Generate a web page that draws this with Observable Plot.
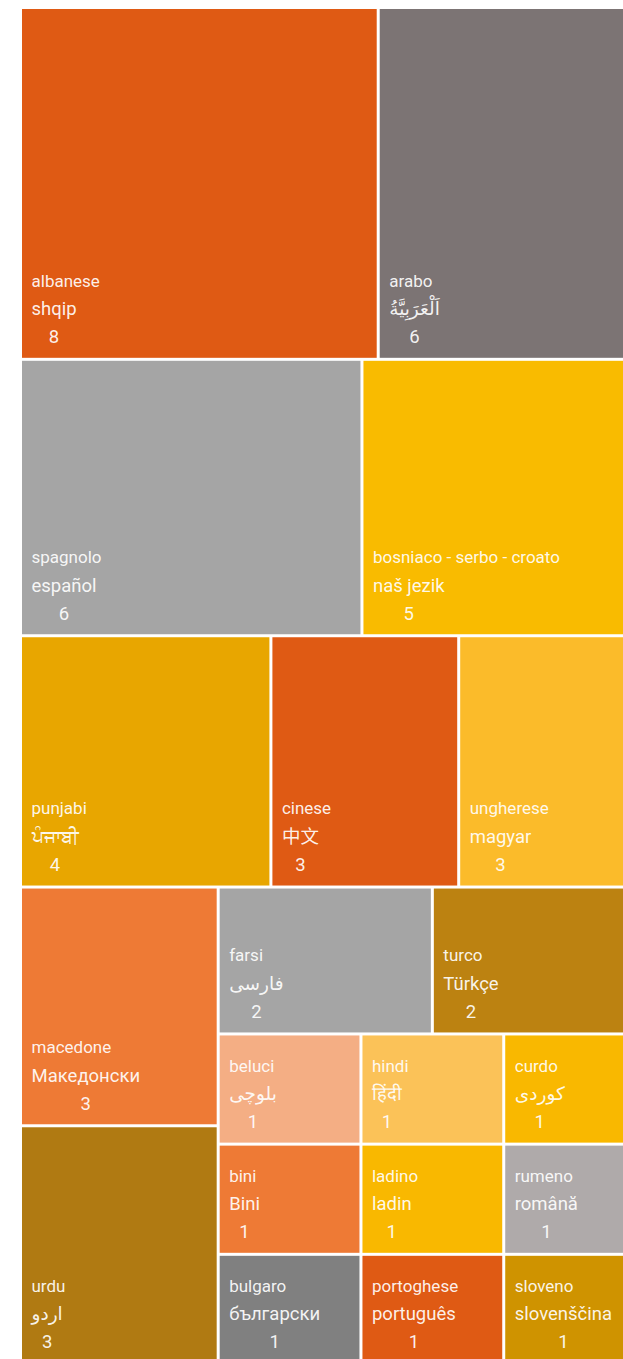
<!DOCTYPE html>
<html><head><meta charset="utf-8">
<script src="https://cdn.jsdelivr.net/npm/d3@7"></script>
<script src="https://cdn.jsdelivr.net/npm/@observablehq/plot@0.6"></script>
<style>
html,body{margin:0;padding:0;background:#fff;overflow:hidden}
#chart svg{display:block;max-width:none}
</style></head><body><div id="chart"></div>
<script>
const italian = ["albanese","arabo","spagnolo","bosniaco - serbo - croato","punjabi","cinese","ungherese","macedone","urdu","farsi","turco","beluci","hindi","curdo","bini","ladino","rumeno","bulgaro","portoghese","sloveno"];
const native = ["shqip","اَلْعَرَبِيَّةُ","español","naš jezik","ਪੰਜਾਬੀ","中文","magyar","Македонски","اردو","فارسی","Türkçe","بلوچی","हिंदी","کوردی","Bini","ladin","română","български","português","slovenščina"];
const speakers = [8,6,6,5,4,3,3,3,3,2,2,1,1,1,1,1,1,1,1,1];
const group = ["1","1","2","2","3","3","3","4/a","4/a","4/b/1","4/b/1","4/b/2","4/b/2","4/b/2","4/b/3","4/b/3","4/b/3","4/b/4","4/b/4","4/b/4"];
const colors = ["#DF5A14","#7C7474","#A5A5A5","#F9BB00","#E8A600","#DF5A14","#FBBB2A","#EE7A35","#B07A12","#A5A5A5","#BC8211","#F4AE84","#FBC258","#F9B800","#EE7A35","#F9B800","#AFAAAA","#808080","#DF5A14","#CF9300"];

const FONT = "Roboto, 'Noto Sans CJK SC', 'DejaVu Sans', sans-serif";
const rows = italian.map((it, i) => ({italian: it, native: native[i], speakers: speakers[i], group: group[i], color: colors[i]}));

// build nested structure from group paths
const tree = {children: []};
rows.forEach(r => {
  let node = tree;
  r.group.split("/").forEach(k => {
    let c = node.children.find(c => c.key === k);
    if (!c) { c = {key: k, children: []}; node.children.push(c); }
    node = c;
  });
  node.children.push({row: r, value: r.speakers});
});

const W = 623, H = 1354;
const root = d3.hierarchy(tree).sum(d => d.value || 0);
d3.treemap()
  .size([W, H])
  .paddingInner(3)
  .tile((node, x0, y0, x1, y1) => (node.depth % 2 ? d3.treemapDice : d3.treemapSlice)(node, x0, y0, x1, y1))(root);

const ctx = document.createElement("canvas").getContext("2d");
ctx.font = `400 18.5px ${FONT}`;
const PAD = 9;
const cells = root.leaves().map(l => {
  const r = l.data.row;
  const w = ctx.measureText(r.native).width;
  return {...r, x0: l.x0, x1: l.x1, y0: l.y0, y1: l.y1, numX: l.x0 + PAD + w / 2};
});

const chart = Plot.plot({
  width: 623,
  height: 1359,
  margin: 0,
  style: {fontFamily: FONT, background: "#fff"},
  x: {domain: [0, W], range: [22, 645], axis: null},
  y: {domain: [0, H], range: [9, 1363], axis: null},
  marks: [
    Plot.rect(cells, {x1: "x0", x2: "x1", y1: "y0", y2: "y1", fill: d => d.color}),
    Plot.text(cells, {x: "x0", y: "y1", text: "italian", dx: PAD, dy: -77, textAnchor: "start", fill: "#fff", fillOpacity: 0.92, fontSize: 17, fontWeight: 400}),
    Plot.text(cells, {x: "x0", y: "y1", text: "native", dx: PAD, dy: -49, textAnchor: "start", fill: "#fff", fillOpacity: 0.92, fontSize: 18.5, fontWeight: 400}),
    Plot.text(cells, {x: "numX", y: "y1", text: d => String(d.speakers), dy: -21, textAnchor: "middle", fill: "#fff", fillOpacity: 0.92, fontSize: 18.5, fontWeight: 400})
  ]
});
document.getElementById("chart").appendChild(chart);
</script>
</body></html>
